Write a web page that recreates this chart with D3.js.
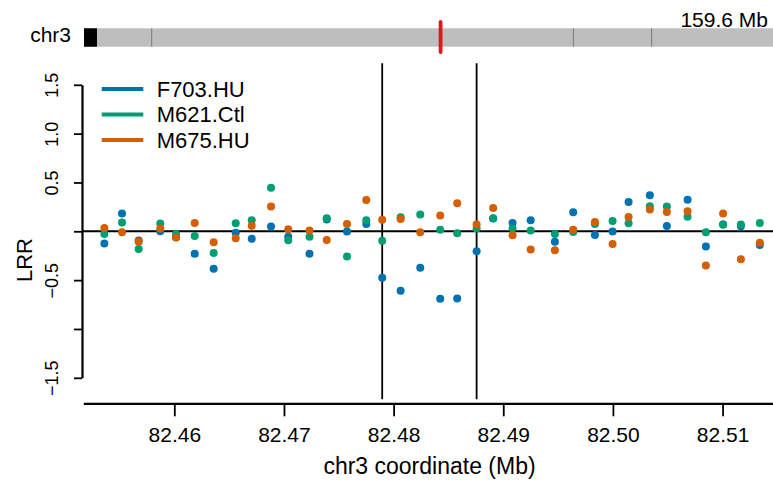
<!DOCTYPE html>
<html>
<head>
<meta charset="utf-8">
<script src="https://cdn.jsdelivr.net/npm/d3@7/dist/d3.min.js"></script>
<style>
    body { margin: 0; background: #fff; }
    svg { display: block; font-family: "Liberation Sans", Arial, Helvetica, sans-serif; }
</style>
</head>
<body>
<svg id="chart" width="773" height="486"></svg>
<script>
// probe positions (Mb) on chr3
var positions = [82.45362, 82.45523, 82.45675, 82.45872, 82.46016, 82.46186, 82.46359, 82.46560, 82.46706,
    82.46882, 82.47039, 82.47233, 82.47390, 82.47575, 82.47751, 82.47896, 82.48064, 82.48243, 82.48425,
    82.48580, 82.48757, 82.48908, 82.49085, 82.49250, 82.49471, 82.49638, 82.49836, 82.49997, 82.50143,
    82.50337, 82.50492, 82.50681, 82.50848, 82.51005, 82.51167, 82.51340]

// LRR values per sample
var f703 = [-0.126, 0.181, -0.095, 0.0, -0.06, -0.231, -0.384, -0.016, -0.075, 0.048, -0.057, -0.23,
    0.12, -0.003, 0.076, -0.476, -0.609, -0.374, -0.691, -0.688, -0.204, 0.13, 0.086, 0.112, -0.108,
    0.194, -0.037, -0.003, 0.301, 0.368, 0.055, 0.324, -0.156, 0.069, 0.051, -0.139]
var m621 = [-0.027, 0.089, -0.18, 0.079, -0.027, -0.047, -0.221, 0.082, 0.112, 0.447, -0.092, -0.057,
    0.133, -0.259, 0.112, -0.098, 0.143, 0.171, 0.017, -0.02, 0.028, 0.133, 0.028, 0.007, -0.027,
    -0.006, 0.076, 0.106, 0.082, 0.256, 0.253, 0.15, -0.01, 0.07, 0.069, 0.086]
var m675 = [0.035, -0.01, -0.108, 0.028, -0.064, 0.086, -0.112, -0.072, 0.058, 0.253, 0.02, 0.007,
    -0.088, 0.076, 0.321, 0.117, 0.127, -0.01, 0.161, 0.286, 0.069, 0.239, -0.041, -0.187, -0.194,
    0.017, 0.096, -0.129, 0.147, 0.222, 0.198, 0.204, -0.351, 0.181, -0.286, -0.116]

var sampleNames = ["F703.HU", "M621.Ctl", "M675.HU"]
var xTicks = [82.46, 82.47, 82.48, 82.49, 82.50, 82.51]
var yTicks = [1.5, 1.0, 0.5, 0, -0.5, -1.0, -1.5]
var xLim = [82.4517, 82.5146]
var yLim = [-1.72, 1.72]

// segment boundaries
var breakpoints = [82.47896, 82.48757]

// ideogram
var chromName = "chr3"
var chromLength = 159.6
var chromBands = [15.66, 113.2, 131.3]
var chromCap = [0, 3.0]
var regionMb = 82.483

var colors = ["#0072B2", "#009E73", "#D55E00"]

var svg = d3.select("#chart")

// set the ranges
var x = d3.scaleLinear().domain(xLim).range([83.3, 773]),
    y = d3.scaleLinear().domain(yLim).range([399.3, 63.3]),
    chrom = d3.scaleLinear().domain([0, chromLength]).range([84, 774])

// ---- ideogram on top
var ideo = svg.append("g")

ideo.append("rect")
    .attr("x", chrom(0))
    .attr("y", 28.3)
    .attr("width", chrom(chromLength) - chrom(0))
    .attr("height", 18.4)
    .style("fill", "#bebebe")

ideo.append("rect")
    .attr("x", chrom(chromCap[0]))
    .attr("y", 28.3)
    .attr("width", chrom(chromCap[1]) - chrom(chromCap[0]))
    .attr("height", 18.4)
    .style("fill", "#000")

ideo.selectAll(".band")
    .data(chromBands)
    .enter().append("line")
    .attr("class", "band")
    .attr("x1", function(d) { return chrom(d) })
    .attr("x2", function(d) { return chrom(d) })
    .attr("y1", 28.3)
    .attr("y2", 46.7)
    .style("stroke", "#7a7a7a")
    .style("stroke-width", 1)

ideo.append("line")
    .attr("x1", chrom(regionMb))
    .attr("x2", chrom(regionMb))
    .attr("y1", 22)
    .attr("y2", 52)
    .style("stroke", "#e0161b")
    .style("stroke-width", 3.8)
    .style("stroke-linecap", "round")

ideo.append("text")
    .attr("x", 71)
    .attr("y", 42)
    .attr("text-anchor", "end")
    .style("font-size", "21px")
    .text(chromName)

ideo.append("text")
    .attr("x", 768)
    .attr("y", 26.7)
    .attr("text-anchor", "end")
    .style("font-size", "21px")
    .text(chromLength + " Mb")

// ---- reference lines (zero + breakpoints)
svg.append("line")
    .attr("x1", 82)
    .attr("x2", 773)
    .attr("y1", y(0))
    .attr("y2", y(0))
    .style("stroke", "#000")
    .style("stroke-width", 2)

svg.selectAll(".bp")
    .data(breakpoints)
    .enter().append("line")
    .attr("class", "bp")
    .attr("x1", function(d) { return x(d) })
    .attr("x2", function(d) { return x(d) })
    .attr("y1", y(yLim[1]))
    .attr("y2", y(yLim[0]))
    .style("stroke", "#000")
    .style("stroke-width", 1.8)

// ---- points, one group per sample
var series = [f703, m621, m675]
series.forEach(function(vals, i) {
    svg.append("g").selectAll("circle")
        .data(vals)
        .enter().append("circle")
        .attr("cx", function(d, j) { return x(positions[j]) })
        .attr("cy", function(d) { return y(d) })
        .attr("r", 4)
        .style("fill", colors[i])
})

// ---- x axis
var xAxis = svg.append("g")
    .attr("transform", "translate(0," + 403.3 + ")")
    .call(d3.axisBottom(x).tickValues(xTicks).tickFormat(d3.format(".2f")).tickSize(13).tickSizeOuter(0).tickPadding(11))

xAxis.select(".domain").style("stroke-width", 2.2)
xAxis.selectAll(".tick line").style("stroke-width", 1.8)
xAxis.selectAll(".tick text")
    .style("font-size", "21px")
    .style("font-family", "Liberation Sans, Arial, sans-serif")
    .attr("dy", "0.71em")

svg.append("text")
    .attr("x", 429.5)
    .attr("y", 474)
    .attr("text-anchor", "middle")
    .style("font-size", "23px")
    .text(chromName + " coordinate (Mb)")

// ---- y axis (only spans the tick range)
var yAxisScale = y.copy().domain([-1.5, 1.5]).range([y(-1.5), y(1.5)])
var yAxis = svg.append("g")
    .attr("transform", "translate(82,0)")
    .call(d3.axisLeft(yAxisScale).tickValues(yTicks).tickFormat(d3.format(".1f")).tickSize(8).tickSizeOuter(0))

yAxis.select(".domain").style("stroke-width", 2.2)
yAxis.selectAll(".tick line").style("stroke-width", 1.8)
yAxis.selectAll(".tick text")
    .attr("transform", "rotate(-90)")
    .attr("x", 0)
    .attr("y", -24)
    .attr("dy", 0)
    .attr("text-anchor", "middle")
    .style("font-size", "18px")
    .style("font-family", "Liberation Sans, Arial, sans-serif")

// labels 0 and -1.0 are dropped in the reference (R overlap rule)
yAxis.selectAll(".tick text").filter(function(d) { return d == -1.0 || d == 0 }).text("")

svg.append("text")
    .attr("transform", "translate(32,260) rotate(-90)")
    .attr("text-anchor", "middle")
    .style("font-size", "22px")
    .text("LRR")

// ---- legend
var legend = svg.append("g")
    .attr("class", "legend")

var legendY = [89, 114.5, 140]
sampleNames.forEach(function(name, i) {
    legend.append("line")
        .attr("x1", 101.7)
        .attr("x2", 143.3)
        .attr("y1", legendY[i])
        .attr("y2", legendY[i])
        .style("stroke", colors[i])
        .style("stroke-width", 4)
    legend.append("text")
        .attr("x", 156.7)
        .attr("y", legendY[i])
        .attr("dy", "0.36em")
        .style("font-size", "22px")
        .text(name)
})
</script>
</body>
</html>
